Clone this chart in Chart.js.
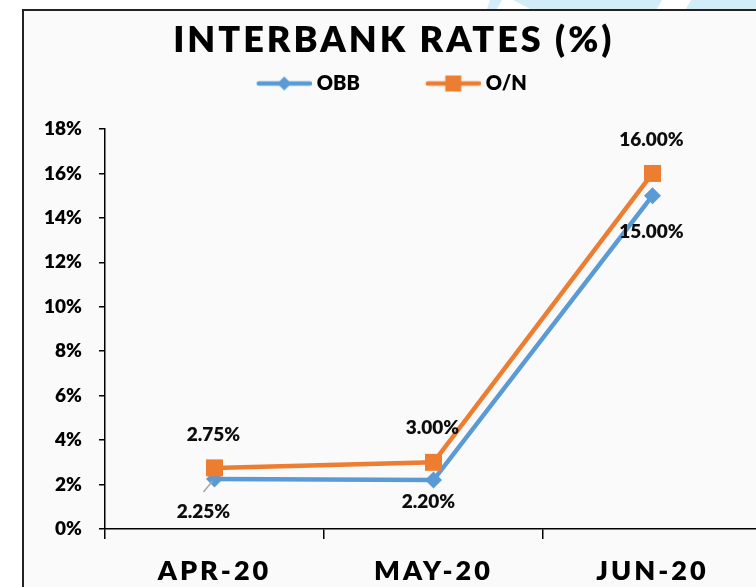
<!DOCTYPE html>
<html>
<head>
<meta charset="utf-8">
<title>Interbank Rates</title>
<script src="https://cdn.jsdelivr.net/npm/chart.js@4.4.1/dist/chart.umd.min.js"></script>
<style>
  html, body { margin: 0; padding: 0; background: #fff; overflow: hidden; }
  body { width: 756px; height: 587px; position: relative; }
  .wm { position: absolute; left: 0; top: 0; width: 756px; height: 12px; background: #d2ecf8; }
  #box {
    position: absolute; left: 22px; top: 9px; width: 800px; height: 600px;
    border-left: 2px solid #222; border-top: 2px solid #222; background: #fafafa;
  }
  #chart { position: absolute; left: 0; top: 0; }
</style>
</head>
<body>
<div class="wm" style="clip-path: polygon(490px 0, 502px 0, 495px 12px, 486px 12px)"></div>
<div class="wm" style="clip-path: polygon(513px 0, 662px 0, 655px 12px, 536px 12px)"></div>
<div class="wm" style="clip-path: polygon(691px 0, 756px 0, 756px 12px, 684px 12px)"></div>
<div id="box"><canvas id="chart" width="750" height="576"></canvas></div>
<script>
// chart data
const months = ['APR-20', 'MAY-20', 'JUN-20'];
const obbRates = [2.25, 2.20, 15.00];
const onRates = [2.75, 3.00, 16.00];
const seriesNames = ['OBB', 'O/N'];
const yTicks = [0, 2, 4, 6, 8, 10, 12, 14, 16, 18];

const BLUE = '#5b9bd5';
const ORANGE = '#ed7d31';
const FONT = 'Lato';
const WEIGHT = 800;

// label offsets from each point (px), per dataset
const labelOffsets = [
    [[-11, 33], [-5, 22], [-1, 36]],
    [[-1, -33], [-1, -34], [-1, -34]]
];

// legend symbol: line with marker, blank margin on the left for item spacing
function legendSymbol(color, marker) {
    const c = document.createElement('canvas');
    const margin = 61, len = 55;
    c.width = margin + len;
    c.height = 20;
    const ctx = c.getContext('2d');
    ctx.strokeStyle = color;
    ctx.fillStyle = color;
    ctx.lineWidth = 4.5;
    ctx.lineCap = 'round';
    ctx.beginPath();
    ctx.moveTo(margin + 2, 10);
    ctx.lineTo(margin + len - 2, 10);
    ctx.stroke();
    const cx = margin + len / 2;
    ctx.beginPath();
    if (marker === 'diamond') {
        ctx.moveTo(cx, 3);
        ctx.lineTo(cx + 7, 10);
        ctx.lineTo(cx, 17);
        ctx.lineTo(cx - 7, 10);
    } else {
        ctx.rect(cx - 8, 2, 16, 16);
    }
    ctx.fill();
    return c;
}
const legendSymbols = [legendSymbol(BLUE, 'diamond'), legendSymbol(ORANGE, 'square')];

function withSpacing(obj, fn, spacing) {
    if (!obj || obj['_spaced_' + fn]) return;
    const orig = obj[fn];
    obj[fn] = function (...args) {
        const ctx = this.ctx;
        ctx.save();
        ctx.letterSpacing = spacing;
        orig.apply(this, args);
        ctx.restore();
    };
    obj['_spaced_' + fn] = true;
}

const spacedText = {
    id: 'spacedText',
    afterLayout(chart) {
        withSpacing(chart.titleBlock, 'draw', '3px');
        withSpacing(chart.scales.x, 'drawLabels', '3px');
        chart.legend.left -= 30;
        chart.legend.right -= 30;
    }
};

const pointLabels = {
    id: 'pointLabels',
    afterDatasetsDraw(chart) {
        const ctx = chart.ctx;
        ctx.save();
        ctx.font = `${WEIGHT} 19px ${FONT}`;
        ctx.fillStyle = '#0d0d0d';
        ctx.textAlign = 'center';
        ctx.textBaseline = 'middle';
        chart.data.datasets.forEach((ds, di) => {
            chart.getDatasetMeta(di).data.forEach((pt, i) => {
                const [dx, dy] = labelOffsets[di][i];
                if (di === 0 && i === 0) {
                    // leader line for the moved label
                    ctx.strokeStyle = '#a6a6a6';
                    ctx.lineWidth = 1.5;
                    ctx.beginPath();
                    ctx.moveTo(pt.x + dx, pt.y + dy - 20);
                    ctx.lineTo(pt.x - 2, pt.y + 2);
                    ctx.stroke();
                }
                ctx.fillText(ds.data[i].toFixed(2) + '%', pt.x + dx, pt.y + dy);
            });
        });
        ctx.restore();
    }
};

new Chart(document.getElementById('chart'), {
    type: 'line',
    data: {
        labels: months,
        datasets: [
            {
                label: seriesNames[0], data: obbRates, order: 1,
                borderColor: BLUE, backgroundColor: BLUE, borderWidth: 4.5,
                pointStyle: 'rectRot', pointRadius: 8.5, pointBorderWidth: 0,
                pointBackgroundColor: BLUE
            },
            {
                label: seriesNames[1], data: onRates, order: 0,
                borderColor: ORANGE, backgroundColor: ORANGE, borderWidth: 4.5,
                pointStyle: 'rect', pointRadius: 12, pointBorderWidth: 0,
                pointBackgroundColor: ORANGE
            }
        ]
    },
    options: {
        responsive: false,
        animation: false,
        devicePixelRatio: 1,
        layout: { padding: { top: 0, right: 10.5, bottom: 0, left: 0 } },
        plugins: {
            title: {
                display: true,
                text: 'INTERBANK RATES (%)',
                color: '#000',
                font: { family: FONT, size: 36, weight: WEIGHT },
                padding: { top: 8, bottom: 1.3 }
            },
            subtitle: {
                display: true,
                text: '',
                weight: 500,
                font: { size: 10 },
                padding: { top: 0, bottom: 13.5 }
            },
            legend: {
                position: 'top',
                labels: {
                    usePointStyle: true,
                    pointStyleWidth: 106,
                    padding: 10,
                    color: '#000',
                    font: { family: FONT, size: 20, weight: WEIGHT },
                    generateLabels: (chart) => chart.data.datasets.map((ds, i) => ({
                        text: ds.label,
                        fillStyle: ds.borderColor,
                        strokeStyle: ds.borderColor,
                        fontColor: '#000',
                        lineWidth: 0,
                        pointStyle: legendSymbols[i],
                        hidden: !chart.isDatasetVisible(i),
                        datasetIndex: i
                    }))
                }
            },
            tooltip: { enabled: false }
        },
        scales: {
            x: {
                offset: true,
                afterFit: (scale) => { scale.height = 58; },
                grid: {
                    offset: true, drawOnChartArea: false, drawTicks: true,
                    tickLength: 10, color: '#000', lineWidth: 1.5
                },
                border: { display: true, color: '#000', width: 1.5 },
                ticks: {
                    color: '#000', padding: 16,
                    font: { family: FONT, size: 27, weight: WEIGHT }
                }
            },
            y: {
                min: 0,
                max: 18,
                afterFit: (scale) => { scale.width = 81; },
                afterBuildTicks: (scale) => { scale.ticks = yTicks.map(v => ({ value: v })); },
                grid: {
                    drawOnChartArea: false, drawTicks: true,
                    tickLength: 6, color: '#000', lineWidth: 1.5
                },
                border: { display: true, color: '#000', width: 1.5 },
                ticks: {
                    color: '#000', padding: 17,
                    font: { family: FONT, size: 19, weight: WEIGHT },
                    callback: (v) => v + '%'
                }
            }
        }
    },
    plugins: [spacedText, pointLabels]
});
</script>
</body>
</html>
